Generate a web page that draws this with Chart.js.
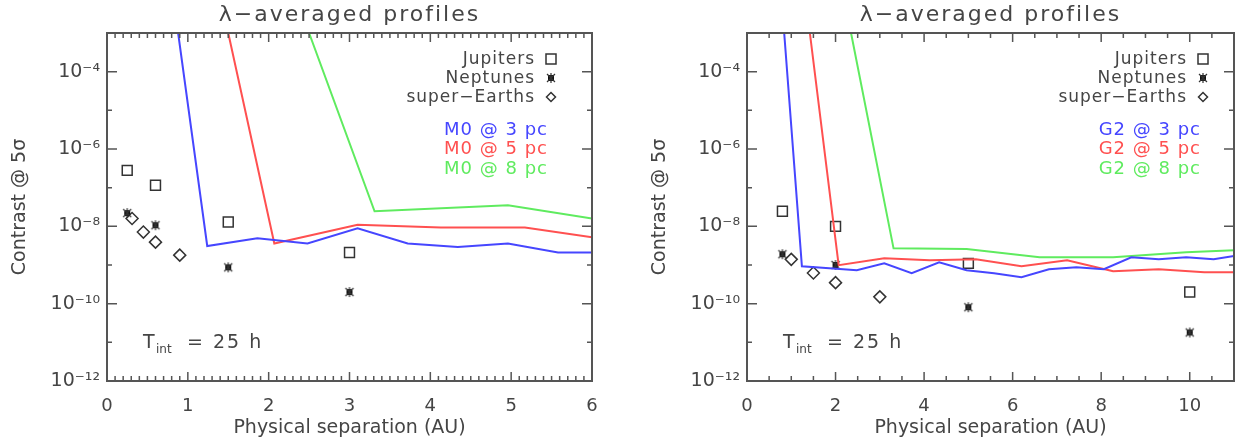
<!DOCTYPE html>
<html>
<head>
<meta charset="utf-8">
<script src="https://cdn.jsdelivr.net/npm/chart.js@4/dist/chart.umd.min.js"></script>
<style>
  body { margin: 0; background: #fff; }
  #wrap { position: relative; width: 1243px; height: 442px; }
  canvas { position: absolute; top: 0; }
</style>
</head>
<body>
<div id="wrap">
  <canvas id="cvsM0" width="640" height="442" style="left:0;width:640px;height:442px"></canvas>
  <canvas id="cvsG2" width="603" height="442" style="left:640px;width:603px;height:442px"></canvas>
</div>
<script>
//ticks
const yTicks = [1e-12, 1e-10, 1e-8, 1e-6, 1e-4];
const yDecades = [-12, -11, -10, -9, -8, -7, -6, -5, -4, -3];
const xTicksM0 = [0, 1, 2, 3, 4, 5, 6];
const xTicksG2 = [0, 2, 4, 6, 8, 10];

//M0 curves (left)
const m0Pc3X = [0.88, 1.24, 1.86, 2.48, 3.1, 3.72, 4.34, 4.96, 5.58, 6.0];
const m0Pc3Y = [1e-3, 3.1e-9, 4.9e-9, 3.6e-9, 8.9e-9, 3.6e-9, 2.9e-9, 3.6e-9, 2.1e-9, 2.1e-9];
const m0Pc5X = [1.5, 2.07, 3.1, 4.13, 5.17, 6.0];
const m0Pc5Y = [1e-3, 3.6e-9, 1.1e-8, 9.3e-9, 9.3e-9, 5.2e-9];
const m0Pc8X = [2.5, 3.31, 4.96, 6.0];
const m0Pc8Y = [1e-3, 2.45e-8, 3.5e-8, 1.6e-8];

//G2 curves (right)
const g2Pc3X = [0.84, 1.24, 1.86, 2.48, 3.1, 3.72, 4.34, 4.96, 5.58, 6.2, 6.82, 7.44, 8.06, 8.68, 9.3, 9.92, 10.54, 11.0];
const g2Pc3Y = [1e-3, 9.3e-10, 8.3e-10, 7.3e-10, 1.1e-9, 6.1e-10, 1.18e-9, 7.3e-10, 6.1e-10, 4.8e-10, 7.8e-10, 8.7e-10, 7.8e-10, 1.58e-9, 1.4e-9, 1.58e-9, 1.4e-9, 1.7e-9];
const g2Pc5X = [1.42, 2.07, 3.1, 4.13, 5.17, 6.2, 7.23, 8.27, 9.3, 10.33, 11.0];
const g2Pc5Y = [1e-3, 9.9e-10, 1.49e-9, 1.33e-9, 1.4e-9, 9.3e-10, 1.33e-9, 6.9e-10, 7.8e-10, 6.5e-10, 6.5e-10];
const g2Pc8X = [2.35, 3.31, 4.96, 6.61, 8.27, 9.92, 11.0];
const g2Pc8Y = [1e-3, 2.7e-9, 2.6e-9, 1.58e-9, 1.58e-9, 2.14e-9, 2.4e-9];

//planets (left)
const jupM0X = [0.25, 0.6, 1.5, 3];
const jupM0Y = [2.8e-7, 1.15e-7, 1.3e-8, 2.1e-9];
const nepM0X = [0.25, 0.6, 1.5, 3];
const nepM0Y = [2.2e-8, 1.07e-8, 8.7e-10, 2.0e-10];
const seM0X = [0.31, 0.45, 0.6, 0.9];
const seM0Y = [1.6e-8, 7.1e-9, 3.9e-9, 1.8e-9];

//planets (right)
const jupG2X = [0.8, 2, 5, 10];
const jupG2Y = [2.45e-8, 1.0e-8, 1.1e-9, 2.0e-10];
const nepG2X = [0.8, 2, 5, 10];
const nepG2Y = [1.9e-9, 1.0e-9, 8.1e-11, 1.8e-11];
const seG2X = [1, 1.5, 2, 3];
const seG2Y = [1.4e-9, 6.2e-10, 3.5e-10, 1.5e-10];

const planetNames = ["Jupiters", "Neptunes", "super\u2212Earths"];
const blue = "rgb(70, 70, 255)";
const red = "rgb(255, 80, 80)";
const green = "rgb(95, 235, 95)";
const ink = "#454545";
const fonte = "DejaVu Sans";

const sup = { "-": "\u207B", "0": "\u2070", "1": "\u00B9", "2": "\u00B2", "3": "\u00B3", "4": "\u2074", "5": "\u2075", "6": "\u2076", "7": "\u2077", "8": "\u2078", "9": "\u2079" };

function potencia(v) {
  const e = Math.round(Math.log10(v));
  return "10" + String(e).split("").map(c => sup[c]).join("");
}

//neptune marker: filled square with asterisk
function marcaNetuno() {
  const c = document.createElement("canvas");
  c.width = 12; c.height = 12;
  const g = c.getContext("2d");
  g.fillStyle = "#111";
  g.fillRect(3, 3, 6, 6);
  g.strokeStyle = "#333";
  g.lineWidth = 1.2;
  g.beginPath();
  g.moveTo(2, 2); g.lineTo(10, 10);
  g.moveTo(10, 2); g.lineTo(2, 10);
  g.moveTo(6, 1); g.lineTo(6, 11);
  g.stroke();
  return c;
}
const imgNetuno = marcaNetuno();

function desenhaMarca(ctx, tipo, x, y) {
  ctx.save();
  ctx.strokeStyle = "#333";
  ctx.lineWidth = 1.5;
  if (tipo == 0) {
    ctx.strokeRect(x - 5, y - 5, 10, 10);
  } else if (tipo == 1) {
    ctx.drawImage(imgNetuno, x - 6, y - 6);
  } else {
    ctx.beginPath();
    ctx.moveTo(x, y - 4.5); ctx.lineTo(x + 4.5, y); ctx.lineTo(x, y + 4.5); ctx.lineTo(x - 4.5, y);
    ctx.closePath();
    ctx.stroke();
  }
  ctx.restore();
}

//frame, inward ticks, title and the texts inside the plot
const moldura = {
  id: "moldura",
  afterDraw(chart, args, o) {
    const ctx = chart.ctx;
    const a = chart.chartArea;
    const sx = chart.scales.x;
    const sy = chart.scales.y;
    ctx.save();
    ctx.strokeStyle = "#555";
    ctx.lineWidth = 2;
    ctx.strokeRect(a.left, a.top, a.right - a.left, a.bottom - a.top);

    ctx.lineWidth = 1.5;
    ctx.beginPath();
    const n = Math.round(o.xMax / o.xMinor);
    for (let i = 1; i < n; i++) {
      const v = i * o.xMinor;
      const px = sx.getPixelForValue(v);
      const major = Math.abs(v / o.xMajor - Math.round(v / o.xMajor)) < 1e-6;
      const len = major ? 9 : 5;
      ctx.moveTo(px, a.bottom); ctx.lineTo(px, a.bottom - len);
      ctx.moveTo(px, a.top); ctx.lineTo(px, a.top + len);
    }
    yDecades.slice(1, -1).forEach(e => {
      const py = sy.getPixelForValue(Math.pow(10, e));
      const len = e % 2 == 0 ? 10 : 5;
      ctx.moveTo(a.left, py); ctx.lineTo(a.left + len, py);
      ctx.moveTo(a.right, py); ctx.lineTo(a.right - len, py);
    });
    ctx.stroke();

    //title
    ctx.fillStyle = ink;
    ctx.textBaseline = "middle";
    ctx.textAlign = "center";
    ctx.font = "22px '" + fonte + "'";
    ctx.letterSpacing = "2px";
    ctx.fillText("\u03BB\u2212averaged profiles", (a.left + a.right) / 2, 15);

    //planet legend
    ctx.textAlign = "right";
    ctx.font = "17px '" + fonte + "'";
    ctx.letterSpacing = "1px";
    planetNames.forEach((nome, i) => {
      const yy = 59 + i * 19;
      ctx.fillText(nome, a.right - o.legendGap, yy + 1);
      desenhaMarca(ctx, i, a.right - o.markGap, yy);
    });

    //star / distance labels
    ctx.font = "18px '" + fonte + "'";
    const cores = [blue, red, green];
    o.stars.forEach((txt, i) => {
      ctx.fillStyle = cores[i];
      ctx.fillText(txt, a.right - o.starGap, 130 + i * 19.5);
    });

    //integration time
    ctx.fillStyle = ink;
    ctx.textAlign = "left";
    ctx.font = "19px '" + fonte + "'";
    ctx.letterSpacing = "0px";
    ctx.fillText("T", a.left + 36, 343);
    ctx.font = "12px '" + fonte + "'";
    ctx.fillText("int", a.left + 49, 350);
    ctx.font = "19px '" + fonte + "'";
    ctx.letterSpacing = "2px";
    ctx.fillText("= 25 h", a.left + 80, 343);
    ctx.restore();
  }
};

function linha(label, xs, ys, cor) {
  return {
    label: label,
    data: xs.map((v, i) => ({ x: v, y: ys[i] })),
    showLine: true,
    borderColor: cor,
    borderWidth: 2,
    pointRadius: 0,
    fill: false
  };
}

function pontos(label, xs, ys, estilo, raio) {
  return {
    label: label,
    data: xs.map((v, i) => ({ x: v, y: ys[i] })),
    showLine: false,
    pointStyle: estilo,
    pointRadius: raio,
    borderColor: "#333",
    backgroundColor: "rgba(0,0,0,0)",
    borderWidth: 1.5
  };
}

function criaGrafico(el, datasets, xMax, xTicks, xMinor, xMajor, padRight, textos) {
  return new Chart(el, {
    type: "scatter",
    data: { datasets: datasets },
    options: {
      responsive: false,
      animation: false,
      devicePixelRatio: 1,
      layout: { padding: { top: 33, right: padRight, bottom: 0, left: 0 } },
      plugins: {
        legend: { display: false },
        tooltip: { enabled: false },
        moldura: Object.assign({ xMax: xMax, xMinor: xMinor, xMajor: xMajor }, textos)
      },
      scales: {
        x: {
          type: "linear",
          min: 0,
          max: xMax,
          afterBuildTicks: s => { s.ticks = xTicks.map(v => ({ value: v })); },
          afterFit: s => { s.height = 61; },
          grid: { display: false, drawTicks: false },
          border: { display: false },
          ticks: { padding: 15, color: ink, font: { family: fonte, size: 18 } },
          title: { display: true, text: "Physical separation (AU)", color: ink, font: { family: fonte, size: 19 }, padding: { top: 0, bottom: 3 } }
        },
        y: {
          type: "logarithmic",
          min: 1e-12,
          max: 1e-3,
          afterBuildTicks: s => { s.ticks = yTicks.map(v => ({ value: v })); },
          afterFit: s => { s.width = 107; },
          grid: { display: false, drawTicks: false },
          border: { display: false },
          ticks: { padding: 7, color: ink, font: { family: fonte, size: 19 }, callback: v => potencia(v) },
          title: { display: true, text: "Contrast @ 5\u03C3", color: ink, font: { family: fonte, size: 19 }, padding: { top: 9, bottom: 0 } }
        }
      }
    },
    plugins: [moldura]
  });
}

const ctxM0 = document.getElementById("cvsM0");
const ctxG2 = document.getElementById("cvsG2");

criaGrafico(ctxM0, [
  linha("M0 @ 3 pc", m0Pc3X, m0Pc3Y, blue),
  linha("M0 @ 5 pc", m0Pc5X, m0Pc5Y, red),
  linha("M0 @ 8 pc", m0Pc8X, m0Pc8Y, green),
  pontos(planetNames[0], jupM0X, jupM0Y, "rect", 7),
  pontos(planetNames[1], nepM0X, nepM0Y, imgNetuno, 6),
  pontos(planetNames[2], seM0X, seM0Y, "rectRot", 6)
], 6, xTicksM0, 0.1, 1, 48, {
  legendGap: 57, markGap: 41, starGap: 44,
  stars: ["M0 @ 3 pc", "M0 @ 5 pc", "M0 @ 8 pc"]
});

criaGrafico(ctxG2, [
  linha("G2 @ 3 pc", g2Pc3X, g2Pc3Y, blue),
  linha("G2 @ 5 pc", g2Pc5X, g2Pc5Y, red),
  linha("G2 @ 8 pc", g2Pc8X, g2Pc8Y, green),
  pontos(planetNames[0], jupG2X, jupG2Y, "rect", 7),
  pontos(planetNames[1], nepG2X, nepG2Y, imgNetuno, 6),
  pontos(planetNames[2], seG2X, seG2Y, "rectRot", 6)
], 11, xTicksG2, 0.5, 2, 9, {
  legendGap: 47, markGap: 31, starGap: 33,
  stars: ["G2 @ 3 pc", "G2 @ 5 pc", "G2 @ 8 pc"]
});
</script>
</body>
</html>
